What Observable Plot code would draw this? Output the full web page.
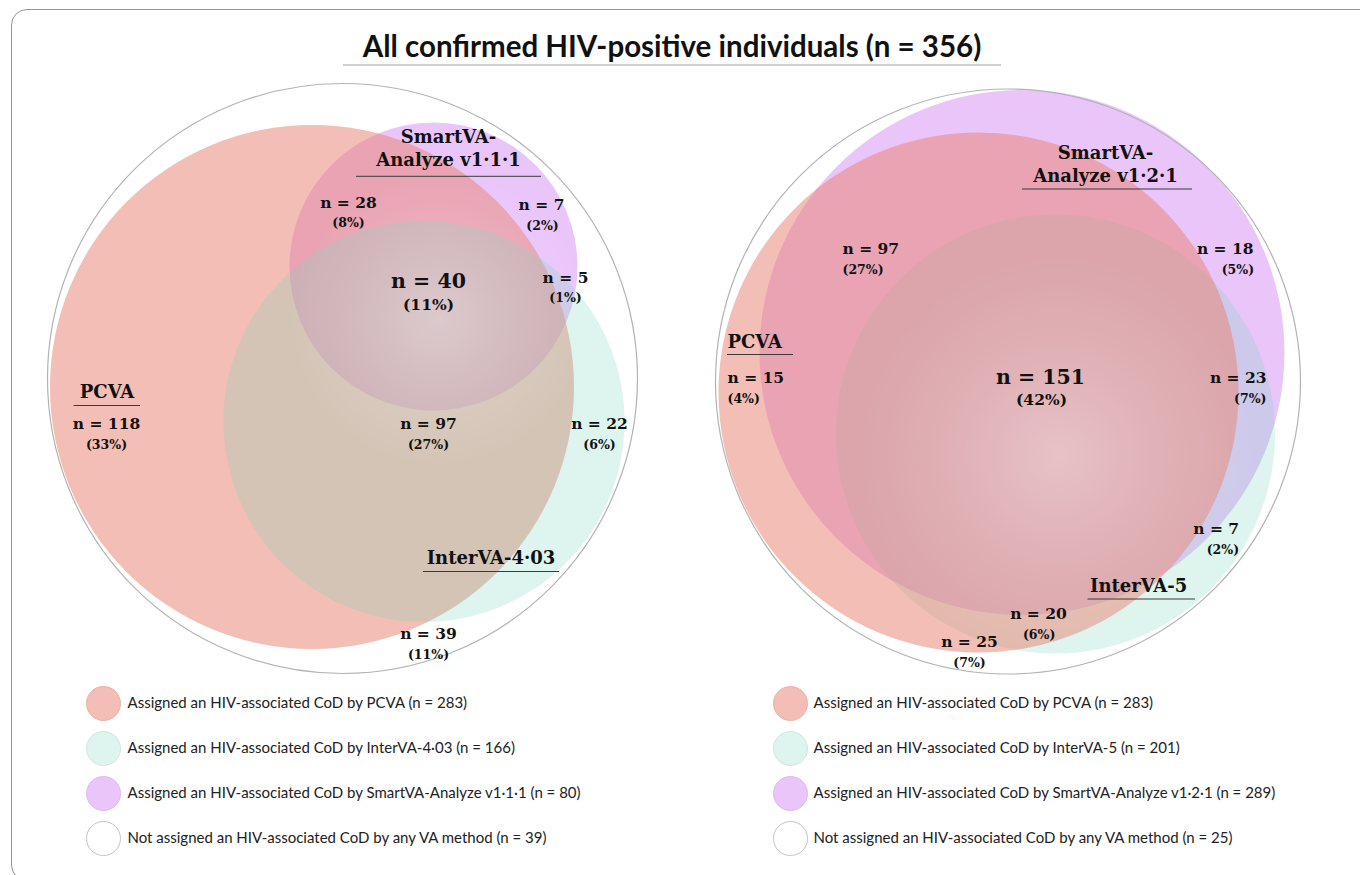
<!DOCTYPE html>
<html><head><meta charset="utf-8">
<script src="https://cdn.jsdelivr.net/npm/d3@7"></script>
<script src="https://cdn.jsdelivr.net/npm/@observablehq/plot@0.6"></script>
<style>
body{margin:0;background:#fff;}
#wrap{position:relative;width:1360px;height:875px;overflow:hidden;background:#fff;}
#frame{position:absolute;left:11px;top:9px;width:1400px;height:872px;border:1.3px solid #959595;border-radius:16px;box-sizing:border-box;pointer-events:none;}
#head{position:relative;height:70px;}
#title{position:absolute;left:343px;width:658px;top:0;height:66px;box-sizing:border-box;border-bottom:2px solid #cfcfcf;text-align:center;font-family:Lato,"Open Sans",sans-serif;font-weight:bold;font-size:29.5px;line-height:31px;padding-top:30px;color:#111;margin:0;white-space:nowrap;}
#chart svg{display:block;}
</style></head>
<body>
<div id="wrap">
  <div id="frame"></div>
  <div id="head"><h1 id="title">All confirmed HIV-positive individuals (n = 356)</h1></div>
  <div id="chart"></div>
</div>
<script>
// ---------- data ----------
const totalN = 356;
const methodsLeft = ["PCVA", "InterVA-4·03", "SmartVA-Analyze v1·1·1"];
const methodsRight = ["PCVA", "InterVA-5", "SmartVA-Analyze v1·2·1"];
const totalsLeft = [283, 166, 80];
const totalsRight = [283, 201, 289];
const noneLeft = 39;
const noneRight = 25;
// regions: PCVA only, PCVA∩Smart, Smart only, all three, Smart∩Inter, PCVA∩Inter, Inter only, none
const regionCountsLeft = [118, 28, 7, 40, 5, 97, 22, 39];
const regionPctLeft = ["33%", "8%", "2%", "11%", "1%", "27%", "6%", "11%"];
const regionCountsRight = [15, 97, 18, 151, 23, 20, 7, 25];
const regionPctRight = ["4%", "27%", "5%", "42%", "7%", "6%", "2%", "7%"];

// ---------- layout (page pixels) ----------
const circleLayout = {
  left:  {PCVA: [311.5, 386.5, 262], Inter: [423.5, 421, 200.5], Smart: [433, 266, 144], outer: [342, 378, 295], glow: [438, 318, 150]},
  right: {PCVA: [978, 392, 260], Inter: [1055, 433.5, 219.5], Smart: [1021.5, 352, 262.5], outer: [1007.5, 381, 292.5], glow: [1058, 455, 200]}
};
const drawOrders = {left: ["Smart", "PCVA", "Inter"], right: ["Smart", "Inter", "PCVA"]};
const regionLayoutLeft = [
  [106, 424, 106, 444, "middle"], [348, 203, 348, 222.5, "middle"], [541, 205, 542, 225, "middle"],
  [428, 281, 428, 305, "middle"], [565, 278, 565, 297.5, "middle"], [428, 424, 428, 444, "middle"],
  [599, 424, 599, 444, "middle"], [428, 634, 428, 654, "middle"]
];
const regionLayoutRight = [
  [727, 378, 727, 398.5, "start"], [842, 249, 842, 269, "start"], [1253, 249, 1253.6, 269, "end"],
  [1040, 377, 1041, 400, "middle"], [1266, 378, 1266, 398.5, "end"], [1038, 613.5, 1038.6, 634, "middle"],
  [1238.6, 529, 1238.6, 549, "end"], [969, 642, 969, 662, "middle"]
];
const bigRegion = 3;
// method label: [x, y, anchor, underline y, x1, x2]
const labelLayout = {
  left:  {PCVA: [106.5, 390, "middle", 405, 73.6, 140], Inter: [490.5, 556, "middle", 571, 423, 559], Smart: [448, 146.5, "middle", 175.8, 356, 541]},
  right: {PCVA: [727, 339.6, "start", 354, 727, 793], Inter: [1089.5, 584, "start", 598.5, 1087.5, 1195], Smart: [1105, 162.5, "middle", 188.5, 1022, 1192]}
};
const legendLayout = {left: {cx: 103, tx: 127}, right: {cx: 790, tx: 813}, ys: [703, 748, 793, 838]};

const keys = ["PCVA", "Inter", "Smart"];
const fillStyle = {
  Smart: {fill: "rgb(200,102,242)", opacity: 0.38},
  PCVA:  {fill: "rgb(232,132,115)", opacity: 0.53},
  Inter: {fill: "rgb(119,215,187)", opacity: 0.25}
};
const legendColors = ["#f2beb5", "#ddf5ee", "#eac5fa", "#ffffff"];
const legendStrokes = ["#ecb3a9", "#cde8e0", "#e0b8f2", "#c4c4c4"];

// ---------- build tables ----------
const panels = [
  {side: "left", methods: methodsLeft, totals: totalsLeft, none: noneLeft, counts: regionCountsLeft, pcts: regionPctLeft, rl: regionLayoutLeft},
  {side: "right", methods: methodsRight, totals: totalsRight, none: noneRight, counts: regionCountsRight, pcts: regionPctRight, rl: regionLayoutRight}
];
const circles = [];
const outers = [];
const glows = [];
const regionTexts = [];
const methodLabels = [];
const underlines = [];
const legendItems = [];
for (const p of panels) {
  const cl = circleLayout[p.side];
  keys.forEach((k, i) => {
    const order = drawOrders[p.side].indexOf(k);
    circles.push({key: k, side: p.side, order, method: p.methods[i], total: p.totals[i], cx: cl[k][0], cy: cl[k][1], r: cl[k][2]});
    const L = labelLayout[p.side][k];
    const name = k === "Smart" ? p.methods[i].replace("-", "-\n") : p.methods[i];
    methodLabels.push({text: name, x: L[0], y: L[1], anchor: L[2]});
    underlines.push({y: L[3], x1: L[4], x2: L[5]});
  });
  outers.push({cx: cl.outer[0], cy: cl.outer[1], r: cl.outer[2]});
  glows.push({cx: cl.glow[0], cy: cl.glow[1], r: cl.glow[2]});
  p.counts.forEach((c, i) => {
    const L = p.rl[i];
    const big = i === bigRegion;
    regionTexts.push({text: `n = ${c}`, x: L[0], y: L[1], anchor: L[4], size: big ? 20.5 : 15.5});
    regionTexts.push({text: `(${p.pcts[i]})`, x: L[2], y: L[3], anchor: L[4], size: big ? 15.5 : 12.5});
  });
  const lg = legendLayout[p.side];
  keys.forEach((k, i) => {
    legendItems.push({cx: lg.cx, tx: lg.tx, y: legendLayout.ys[i], fill: legendColors[i], stroke: legendStrokes[i],
      text: `Assigned an HIV-associated CoD by ${p.methods[i]} (n = ${p.totals[i]})`});
  });
  legendItems.push({cx: lg.cx, tx: lg.tx, y: legendLayout.ys[3], fill: legendColors[3], stroke: legendStrokes[3],
    text: `Not assigned an HIV-associated CoD by any VA method (n = ${p.none})`});
}

const serif = "'DejaVu Serif', serif";
const marks = [];
// gradient definition for the soft central glow
marks.push(() => {
  const ns = "http://www.w3.org/2000/svg";
  const defs = document.createElementNS(ns, "defs");
  const g = document.createElementNS(ns, "radialGradient");
  g.setAttribute("id", "glow");
  [[0, 0.32], [0.55, 0.12], [1, 0]].forEach(([o, a]) => {
    const s = document.createElementNS(ns, "stop");
    s.setAttribute("offset", o);
    s.setAttribute("stop-color", "#ffffff");
    s.setAttribute("stop-opacity", a);
    g.appendChild(s);
  });
  defs.appendChild(g);
  return defs;
});
for (let o = 0; o < 3; o++) {
  for (const k of keys) {
    const sel = circles.filter(d => d.key === k && d.order === o);
    if (sel.length) marks.push(Plot.dot(sel, {
      x: "cx", y: "cy", r: "r", fill: fillStyle[k].fill, fillOpacity: fillStyle[k].opacity, stroke: "none"
    }));
  }
}
marks.push(Plot.dot(glows, {x: "cx", y: "cy", r: "r", fill: "url(#glow)", stroke: "none"}));
marks.push(Plot.dot(outers, {x: "cx", y: "cy", r: "r", fill: "none", stroke: "#b3b3b3", strokeWidth: 1.2}));
marks.push(Plot.ruleY(underlines, {y: "y", x1: "x1", x2: "x2", stroke: "#3a3a3a", strokeWidth: 1}));
for (const a of ["start", "middle", "end"]) {
  const mt = methodLabels.filter(d => d.anchor === a);
  if (mt.length) marks.push(Plot.text(mt, {x: "x", y: "y", text: "text", textAnchor: a, lineAnchor: "middle", lineHeight: 1.3,
    fontFamily: serif, fontWeight: "bold", fontSize: 18, fill: "#111"}));
  for (const s of [12.5, 15.5, 20.5]) {
    const rt = regionTexts.filter(d => d.anchor === a && d.size === s);
    if (rt.length) marks.push(Plot.text(rt, {x: "x", y: "y", text: "text", textAnchor: a, lineAnchor: "middle",
      fontFamily: serif, fontWeight: "bold", fontSize: s, fill: "#111"}));
  }
}
marks.push(Plot.dot(legendItems, {x: "cx", y: "y", r: () => 17, fill: "fill", stroke: "stroke", strokeWidth: 1}));
marks.push(Plot.text(legendItems, {x: "tx", y: "y", text: "text", textAnchor: "start", lineAnchor: "middle",
  fontFamily: "Lato, 'Open Sans', sans-serif", fontSize: 15, fill: "#222"}));

const chart = Plot.plot({
  width: 1360, height: 805, margin: 0,
  x: {domain: [0, 1360], range: [0, 1360], axis: null},
  y: {domain: [70, 875], range: [0, 805], axis: null},
  r: {type: "identity"},
  color: {type: "identity"},
  style: {background: "transparent", overflow: "visible"},
  marks
});
document.getElementById("chart").appendChild(chart);
</script>
</body></html>
